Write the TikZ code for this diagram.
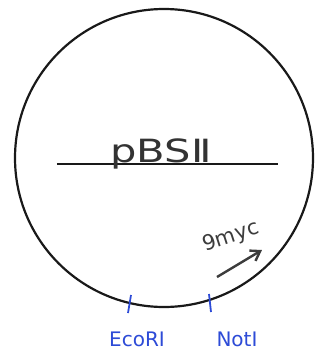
\documentclass[tikz,border=0pt]{standalone}
\usepackage{fontspec}
\setmainfont{DejaVu Sans}
\usetikzlibrary{arrows.meta}
\definecolor{penblue}{RGB}{45,75,215}
\definecolor{pengray}{RGB}{60,60,60}
\tikzset{
  plasmid/.style={draw=black!90, line width=2.2pt},
  siteTick/.style={draw=penblue, line width=1.8pt},
  siteLabel/.style={text=penblue, font=\fontsize{20}{24}\selectfont, inner sep=0pt},
  dirArrow/.style={draw=pengray, line width=2.4pt, -{Straight Barb[length=9pt,width=12pt]}}
}
\begin{document}
\begin{tikzpicture}[x=1pt,y=-1pt]
\useasboundingbox (0,0) rectangle (327,360);
\fill[white] (0,0) rectangle (327,360);
\node[plasmid, circle, minimum size=298pt, inner sep=0pt] (ring) at (164,158) {};
\draw[line width=2.4pt, black!90] (57,164) -- (278,164);
\node[inner sep=0pt, anchor=base, font=\fontsize{32}{36}\selectfont, xscale=1.3, text=black!80] (name) at (161,162) {pBSⅡ};
\coordinate (arrS) at (217,277);
\coordinate (arrE) at (262,250);
\draw[dirArrow] (arrS) -- (arrE);
\node[inner sep=0pt, rotate=18, text=pengray, font=\fontsize{21}{24}\selectfont] (gene) at (231,237) {9myc};
\coordinate (ecoA) at (131,295);
\coordinate (ecoB) at (128,313);
\coordinate (notA) at (209,294);
\coordinate (notB) at (211,312);
\draw[siteTick] (ecoA) -- (ecoB);
\draw[siteTick] (notA) -- (notB);
\node[siteLabel] (eco) at (137,339) {EcoRI};
\node[siteLabel] (not) at (237,339) {NotI};
\end{tikzpicture}
\end{document}
